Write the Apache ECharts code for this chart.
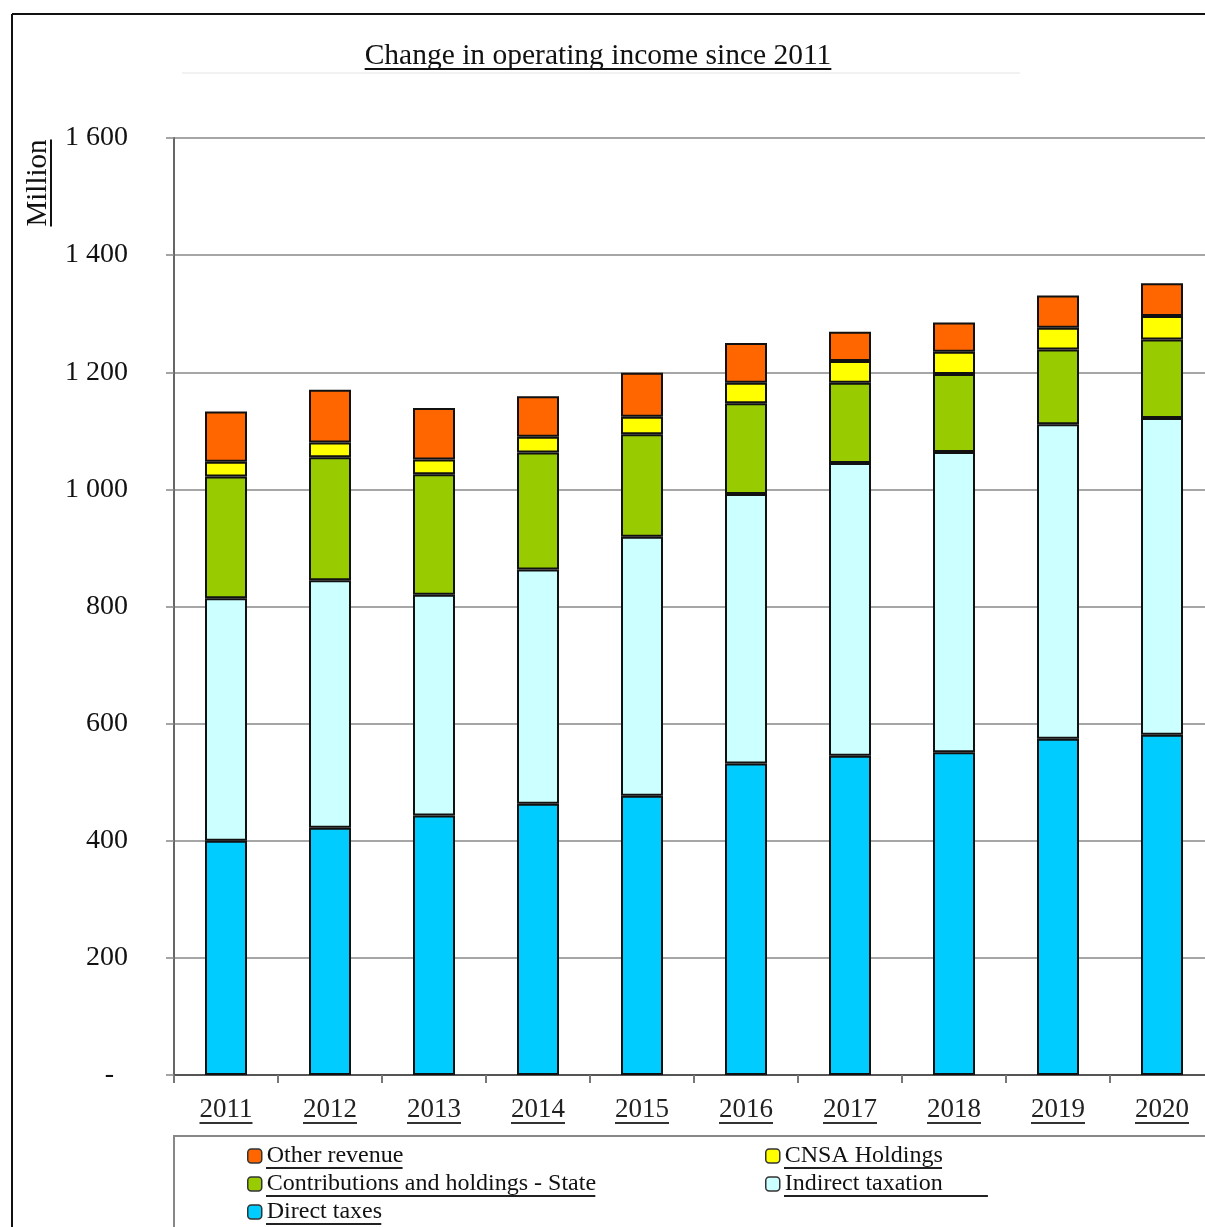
<!DOCTYPE html>
<html>
<head>
<meta charset="utf-8">
<script src="https://cdn.jsdelivr.net/npm/echarts@6/dist/echarts.min.js"></script>
<style>
html,body{margin:0;padding:0;background:#fff;overflow:hidden;}
#chart{width:1230px;height:1227px;}
</style>
</head>
<body>
<div id="chart"></div>
<script>
// ---- data ----
const categories = ['2011','2012','2013','2014','2015','2016','2017','2018','2019','2020'];
const directTaxes        = [400, 422, 443, 463, 477, 532, 545, 551, 574, 581];
const indirectTaxation   = [414, 423, 377, 400, 442, 460, 500, 513, 537, 541];
const contributionsState = [208, 210, 206, 200, 175, 155, 137, 133, 128, 134];
const cnsaHoldings       = [25, 25, 25, 27, 30, 35, 37, 38, 37, 40];
const otherRevenue       = [86, 90, 88, 69, 75, 68, 50, 50, 55, 56];
const yTickValues = [0, 200, 400, 600, 800, 1000, 1200, 1400, 1600];
const yTickLabels = ['-  ', '200', '400', '600', '800', '1 000', '1 200', '1 400', '1 600'];
const seriesNames = ['Direct taxes','Indirect taxation','Contributions and holdings - State','CNSA Holdings','Other revenue'];
const titleText = 'Change in operating income since 2011';
const yName = 'Million';

const FONT = "'Liberation Serif', 'Times New Roman', serif";
const colors = ['#00CCFF', '#CCFFFF', '#99CC00', '#FFFF00', '#FF6600'];
const seriesData = [directTaxes, indirectTaxation, contributionsState, cnsaHoldings, otherRevenue];

const chart = echarts.init(document.getElementById('chart'), null, {renderer:'canvas'});

const mctx = document.createElement('canvas').getContext('2d');
function tw(text, size){ mctx.font = size + 'px ' + FONT; return mctx.measureText(text).width; }

const GRID = {left:174, top:138, width:1040, height:937};

const legendPos = [
  {name:'Other revenue', left:247, top:1144},
  {name:'CNSA Holdings', left:765, top:1144},
  {name:'Contributions and holdings - State', left:247, top:1172},
  {name:'Indirect taxation', left:765, top:1172},
  {name:'Direct taxes', left:247, top:1200}
];

const option = {
  animation:false,
  backgroundColor:'#fff',
  grid:GRID,
  xAxis:{
    type:'category', data:categories,
    axisLine:{lineStyle:{color:'#555', width:2}},
    axisTick:{show:true, length:8, lineStyle:{color:'#777', width:2}},
    axisLabel:{fontFamily:FONT, fontSize:27, color:'#222', margin:21}
  },
  yAxis:{
    type:'value', min:0, max:1600, interval:200,
    axisLine:{show:true, lineStyle:{color:'#666', width:2}},
    axisTick:{show:true, length:8, lineStyle:{color:'#888', width:1.5}},
    splitLine:{lineStyle:{color:'#888', width:1.5}},
    axisLabel:{fontFamily:FONT, fontSize:28, color:'#111', margin:46,
      formatter:function(v){ const i = yTickValues.indexOf(v); return i>=0 ? yTickLabels[i] : ''; }}
  },
  legend: legendPos.map(p => ({
    data:[p.name], left:p.left, top:p.top, padding:0,
    itemWidth:14, itemHeight:14, icon:'roundRect',
    itemStyle:{borderColor:'#333', borderWidth:1.5},
    textStyle:{fontFamily:FONT, fontSize:24, color:'#111'},
    selectedMode:false
  })),
  series: seriesNames.map((n,i) => ({
    name:n, type:'bar', stack:'total', barWidth:42,
    data:seriesData[i],
    itemStyle:{color:colors[i], borderColor:'#111', borderWidth:2},
    emphasis:{disabled:true}
  })),
  graphic:[]
};
chart.setOption(option);

// decorations: borders, title, underlines
const g = [];
g.push({type:'line', shape:{x1:12, y1:14, x2:1230, y2:14}, style:{stroke:'#111', lineWidth:2}, z:100});
g.push({type:'line', shape:{x1:12, y1:14, x2:12, y2:1227}, style:{stroke:'#111', lineWidth:2}, z:100});
g.push({type:'line', shape:{x1:182, y1:73, x2:1020, y2:73}, style:{stroke:'#eeeeee', lineWidth:1.5}, z:1});
// legend box
g.push({type:'rect', shape:{x:174, y:1136, width:1100, height:200}, style:{fill:'none', stroke:'#888', lineWidth:2}, z:0});

// title
const titleSize = 29.5;
const tW = tw(titleText, titleSize);
g.push({type:'text', x:598, y:56, style:{text:titleText, fontFamily:FONT, fontSize:titleSize, fill:'#111', align:'center', verticalAlign:'middle'}, z:100});
g.push({type:'line', shape:{x1:598 - tW/2, y1:69, x2:598 + tW/2, y2:69}, style:{stroke:'#111', lineWidth:2}, z:100});

// y name
const ySize = 29;
const yW = tw(yName, ySize);
g.push({type:'text', x:38, y:183, rotation:Math.PI/2, style:{text:yName, fontFamily:FONT, fontSize:ySize, fill:'#111', align:'center', verticalAlign:'middle'}, z:100});
g.push({type:'line', shape:{x1:51, y1:183 - yW/2, x2:51, y2:183 + yW/2}, style:{stroke:'#111', lineWidth:2}, z:100});

// x label underlines
categories.forEach(c => {
  const px = chart.convertToPixel({xAxisIndex:0}, c);
  const w = tw(c, 27);
  g.push({type:'line', shape:{x1:px - w/2, y1:1123, x2:px + w/2, y2:1123}, style:{stroke:'#333', lineWidth:2}, z:100});
});

// legend underlines
const extra = {'Indirect taxation':46};
legendPos.forEach(p => {
  const w = tw(p.name, 24) + (extra[p.name] || 0);
  const x0 = p.left + 14 + 5;
  const y0 = p.top + 24;
  g.push({type:'line', shape:{x1:x0, y1:y0, x2:x0 + w, y2:y0}, style:{stroke:'#222', lineWidth:2}, z:100});
});

chart.setOption({graphic:g});
</script>
</body>
</html>
